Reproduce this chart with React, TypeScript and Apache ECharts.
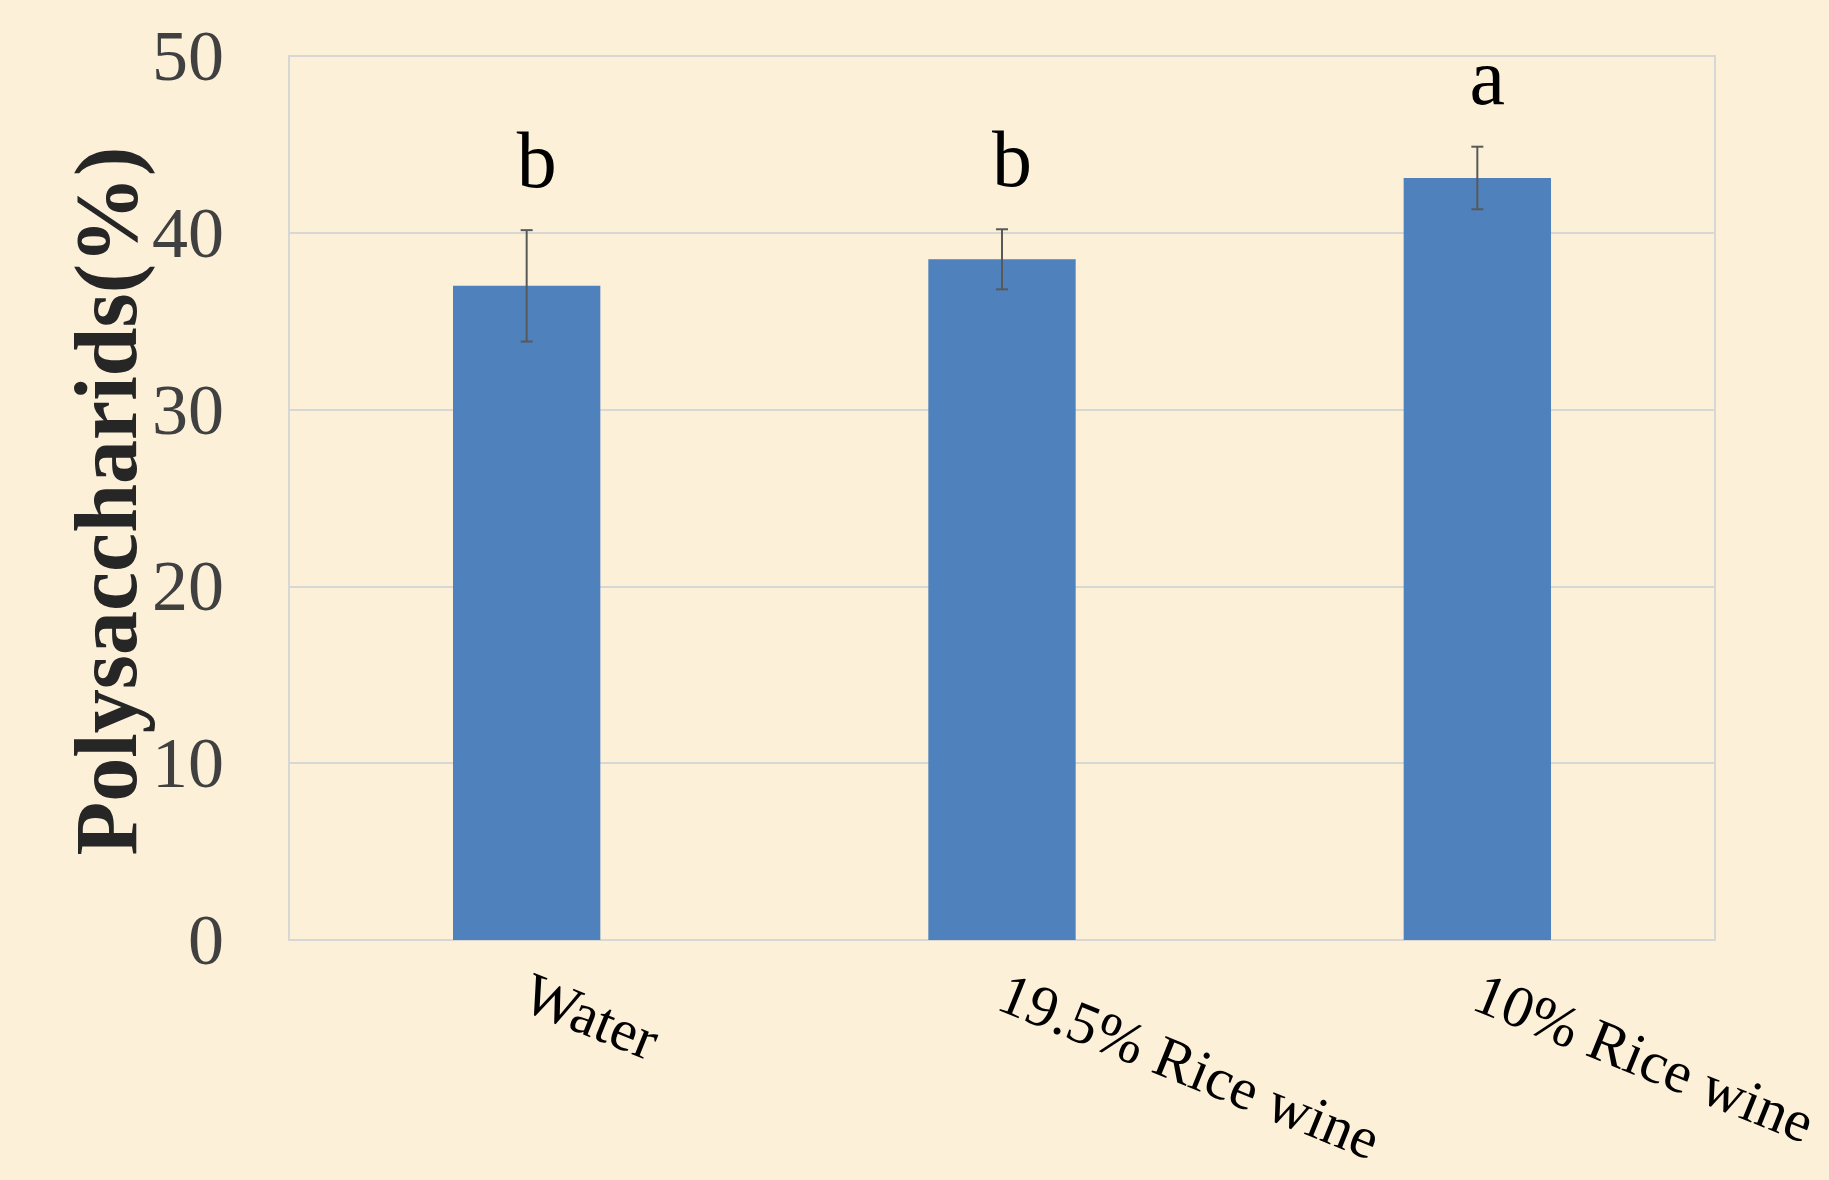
import React, { useEffect, useRef } from "react";
import * as echarts from "echarts";

// Treatments and measured polysaccharide content (%), with standard deviations
const categories = ["Water", "19.5% Rice wine", "10% Rice wine"];
const values = [37.0, 38.5, 43.1];
const errors = [3.15, 1.7, 1.77];
const letters = ["b", "b", "a"];
const yTicks = [0, 10, 20, 30, 40, 50];

const SERIF = "'Liberation Serif', 'Times New Roman', serif";

export default function App() {
  const ref = useRef<HTMLDivElement>(null);

  useEffect(() => {
    if (!ref.current) return;
    const chart = echarts.init(ref.current, null, { renderer: "svg" });

    const errData = categories.map((c, i) => [i, values[i], errors[i]]);

    chart.setOption({
      animation: false,
      backgroundColor: "#FCF0D8",
      grid: {
        left: 289,
        top: 56,
        right: 114,
        bottom: 240,
        show: true,
        borderColor: "#D7D8D6",
        borderWidth: 2,
        outerBoundsMode: "none",
        containLabel: false,
      },
      xAxis: {
        type: "category",
        data: categories,
        axisLine: { show: false },
        axisTick: { show: false },
        axisLabel: {
          rotate: -22,
          margin: 50,
          fontFamily: SERIF,
          fontSize: 59,
          color: "#000",
        },
      },
      yAxis: {
        type: "value",
        min: yTicks[0],
        max: yTicks[yTicks.length - 1],
        interval: 10,
        axisLine: { show: false },
        axisTick: { show: false },
        splitLine: { lineStyle: { color: "#D7D8D6", width: 2 } },
        axisLabel: {
          margin: 65,
          fontFamily: SERIF,
          fontSize: 72,
          color: "#404040",
        },
      },
      graphic: [
        {
          type: "text",
          x: 106,
          y: 501,
          rotation: Math.PI / 2,
          style: {
            text: "Polysaccharids(%)",
            fontFamily: SERIF,
            fontWeight: "bold",
            fontSize: 88,
            fill: "#262626",
            align: "center",
            verticalAlign: "middle",
          },
        },
      ],
      series: [
        {
          type: "bar",
          data: values,
          barWidth: "31%",
          itemStyle: { color: "#4F81BD" },
        },
        {
          type: "custom",
          data: errData,
          z: 10,
          renderItem: (params: any, api: any) => {
            const x = api.value(0);
            const v = api.value(1);
            const e = api.value(2);
            const top = api.coord([x, v + e]);
            const bot = api.coord([x, v - e]);
            const cap = 6;
            const stroke = { stroke: "#595959", lineWidth: 2 };
            return {
              type: "group",
              children: [
                { type: "line", shape: { x1: top[0], y1: top[1], x2: bot[0], y2: bot[1] }, style: stroke },
                { type: "line", shape: { x1: top[0] - cap, y1: top[1], x2: top[0] + cap, y2: top[1] }, style: stroke },
                { type: "line", shape: { x1: bot[0] - cap, y1: bot[1], x2: bot[0] + cap, y2: bot[1] }, style: stroke },
                {
                  type: "text",
                  x: top[0] + 10,
                  y: top[1] - 30,
                  style: {
                    text: letters[params.dataIndex],
                    fontFamily: SERIF,
                    fontSize: 80,
                    fill: "#000",
                    align: "center",
                    verticalAlign: "bottom",
                  },
                },
              ],
            };
          },
        },
      ],
    });

    return () => chart.dispose();
  }, []);

  return (
    <div
      ref={ref}
      style={{ position: "fixed", left: 0, top: 0, width: 1829, height: 1180 }}
    />
  );
}
